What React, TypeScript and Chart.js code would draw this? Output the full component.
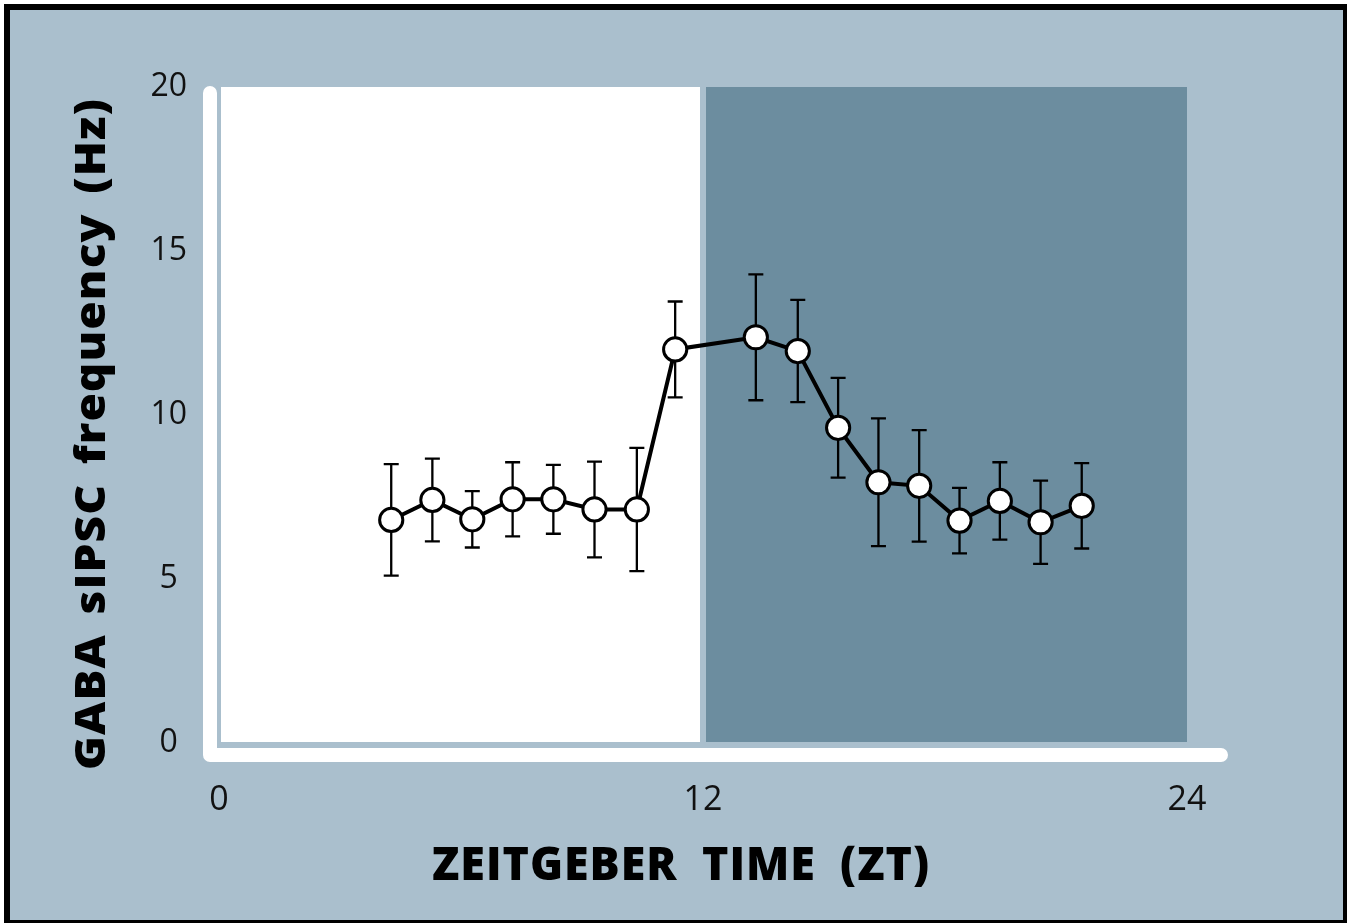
import React, { useEffect, useRef } from "react";
import { Chart, registerables } from "chart.js";

Chart.register(...registerables);

// Zeitgeber time of each recording bin (h)
const zt = [4.27, 5.29, 6.28, 7.28, 8.29, 9.31, 10.36, 11.31, 13.31, 14.35, 15.35, 16.35, 17.36, 18.36, 19.36, 20.37, 21.39];
// GABA sIPSC frequency (Hz)
const freq = [6.8, 7.41, 6.82, 7.43, 7.43, 7.12, 7.12, 12.0, 12.37, 11.95, 9.61, 7.95, 7.84, 6.78, 7.38, 6.73, 7.23];
// error (± Hz)
const sem = [1.7, 1.26, 0.86, 1.13, 1.05, 1.46, 1.88, 1.46, 1.92, 1.56, 1.52, 1.95, 1.7, 1.0, 1.18, 1.27, 1.3];

const xTicks = [0, 12, 24];
const yTicks = [0, 5, 10, 15, 20];
const lightPhase = [0, 12];
const darkPhase = [12, 24];
const xTitle = "ZEITGEBER TIME (ZT)";
const yTitle = "GABA sIPSC frequency (Hz)";

const BG = "#aabfcd";
const DARK = "#6c8d9f";

export default function App() {
  const ref = useRef<HTMLCanvasElement>(null);

  useEffect(() => {
    const canvas = ref.current!;

    const framePlugin = {
      id: "frame",
      beforeDraw(chart: any) {
        const { ctx, chartArea: a, scales } = chart;
        const x = scales.x;
        const W = chart.width;
        const H = chart.height;
        ctx.save();
        ctx.fillStyle = "#ffffff";
        ctx.fillRect(0, 0, W, H);
        ctx.fillStyle = "#000000";
        ctx.fillRect(4, 4, 1343, H - 4);
        ctx.fillStyle = BG;
        ctx.fillRect(10, 10, 1333, 910);

        const x0 = x.getPixelForValue(lightPhase[0]);
        const x1 = x.getPixelForValue(lightPhase[1]);
        const x2 = x.getPixelForValue(darkPhase[0]);
        const x3 = x.getPixelForValue(darkPhase[1]);
        ctx.fillStyle = "#ffffff";
        ctx.fillRect(x0 + 2, a.top, x1 - 3 - (x0 + 2), a.bottom - 1 - a.top);
        ctx.fillStyle = DARK;
        ctx.fillRect(x2 + 3, a.top, x3 - (x2 + 3), a.bottom - 1 - a.top);

        ctx.strokeStyle = "#ffffff";
        ctx.lineWidth = 14;
        ctx.lineCap = "round";
        ctx.lineJoin = "round";
        ctx.beginPath();
        ctx.moveTo(a.left - 9, a.top + 6);
        ctx.lineTo(a.left - 9, a.bottom + 12);
        ctx.lineTo(a.right + 34, a.bottom + 12);
        ctx.stroke();

        // axis titles
        ctx.fillStyle = "#000000";
        ctx.textAlign = "center";
        ctx.textBaseline = "alphabetic";
        ctx.font = '800 46px "Open Sans"';
        try {
          (ctx as any).wordSpacing = "12px";
          (ctx as any).letterSpacing = "1px";
        } catch (e) {}
        let w = ctx.measureText(xTitle).width;
        ctx.save();
        ctx.translate(681, 880);
        ctx.scale(498 / w, 1);
        ctx.fillText(xTitle, 0, 0);
        ctx.restore();

        ctx.font = '800 42px "Open Sans"';
        try {
          (ctx as any).wordSpacing = "6px";
          (ctx as any).letterSpacing = "1px";
        } catch (e) {}
        w = ctx.measureText(yTitle).width;
        ctx.save();
        ctx.translate(105, 434);
        ctx.rotate(-Math.PI / 2);
        ctx.scale(672 / w, 1);
        ctx.fillText(yTitle, 0, 0);
        ctx.restore();
        try {
          (ctx as any).wordSpacing = "0px";
          (ctx as any).letterSpacing = "0px";
        } catch (e) {}

        ctx.restore();
      },
      beforeDatasetsDraw(chart: any) {
        const { ctx, scales } = chart;
        const x = scales.x;
        const y = scales.y;
        ctx.save();
        ctx.strokeStyle = "#000000";
        ctx.lineWidth = 2.3;
        ctx.lineCap = "butt";
        for (let i = 0; i < zt.length; i++) {
          const px = x.getPixelForValue(zt[i]);
          const top = y.getPixelForValue(freq[i] + sem[i]);
          const bot = y.getPixelForValue(freq[i] - sem[i]);
          ctx.beginPath();
          ctx.moveTo(px, top);
          ctx.lineTo(px, bot);
          ctx.moveTo(px - 7.5, top);
          ctx.lineTo(px + 7.5, top);
          ctx.moveTo(px - 7.5, bot);
          ctx.lineTo(px + 7.5, bot);
          ctx.stroke();
        }
        ctx.restore();
      },
    };

    const chart = new Chart(canvas, {
      type: "line",
      data: {
        datasets: [
          {
            data: zt.map((v, i) => ({ x: v, y: freq[i] })),
            borderColor: "#000000",
            borderWidth: 4,
            pointRadius: 11.6,
            pointBorderWidth: 3,
            pointBackgroundColor: "#ffffff",
            pointBorderColor: "#000000",
            tension: 0,
            clip: false as any,
          },
        ],
      },
      options: {
        responsive: false,
        animation: false,
        devicePixelRatio: 1,
        layout: { padding: { top: 87, right: 166, left: 0, bottom: 0 } },
        plugins: { legend: { display: false }, tooltip: { enabled: false } },
        scales: {
          x: {
            type: "linear",
            min: 0,
            max: 24,
            afterBuildTicks: (s: any) => {
              s.ticks = xTicks.map((v) => ({ value: v }));
            },
            afterFit: (s: any) => {
              s.height = 180;
            },
            ticks: {
              font: { family: "Open Sans", size: 34 },
              color: "#111111",
              padding: 37,
              maxRotation: 0,
              autoSkip: false,
            },
            grid: { display: false, drawTicks: false, tickLength: 0 },
            border: { display: false },
          },
          y: {
            type: "linear",
            min: 0,
            max: 20,
            afterBuildTicks: (s: any) => {
              s.ticks = yTicks.map((v) => ({ value: v }));
            },
            afterFit: (s: any) => {
              s.width = 219;
            },
            ticks: {
              font: { family: "Open Sans", size: 32 },
              color: "#111111",
              padding: 32,
              crossAlign: "center",
              autoSkip: false,
            },
            grid: { display: false, drawTicks: false, tickLength: 0 },
            border: { display: false },
          },
        },
      },
      plugins: [framePlugin],
    });

    return () => chart.destroy();
  }, []);

  return (
    <div style={{ position: "absolute", left: 0, top: 0, width: 1353, height: 923 }}>
      <canvas ref={ref} width={1353} height={923} style={{ display: "block" }} />
    </div>
  );
}
